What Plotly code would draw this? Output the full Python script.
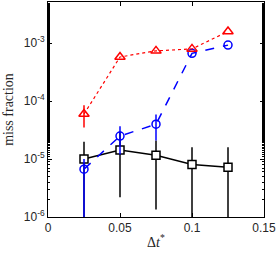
import plotly.graph_objects as go

x = [0.025, 0.05, 0.075, 0.1, 0.125]

red_y = [6.0e-5, 5.8e-4, 7.4e-4, 8.0e-4, 1.6e-3]
red_hi = [8.5e-5, 5.8e-4, 7.4e-4, 8.0e-4, 1.6e-3]
red_lo = [3.5e-5, 5.8e-4, 7.4e-4, 8.0e-4, 1.6e-3]

blue_y = [6.7e-6, 2.5e-5, 4.0e-5, 6.7e-4, 9.3e-4]
blue_hi = [1.0e-5, 3.7e-5, 5.9e-5, 6.7e-4, 9.3e-4]
blue_lo = [1e-7, 1.2e-5, 2.1e-5, 6.7e-4, 9.3e-4]

black_y = [1.0e-5, 1.43e-5, 1.17e-5, 8.1e-6, 7.2e-6]
black_hi = [2.0e-5, 3.0e-5, 2.1e-5, 1.6e-5, 1.6e-5]
black_lo = [1e-7, 2.2e-6, 1.35e-6, 1e-7, 1e-7]

yticks = [1e-6, 1e-5, 1e-4, 1e-3]
yticktext = ["10<sup>-6</sup>", "10<sup>-5</sup>", "10<sup>-4</sup>", "10<sup>-3</sup>"]
xticks = [0, 0.05, 0.1, 0.15]
xticktext = ["0", "0.05", "0.1", "0.15"]


def err(y, hi, lo):
    return dict(type="data", symmetric=False,
                array=[h - v for h, v in zip(hi, y)],
                arrayminus=[v - l for v, l in zip(y, lo)],
                width=0, thickness=1.5)


fig = go.Figure()
fig.add_trace(go.Scatter(
    x=x, y=black_y, mode="lines+markers",
    line=dict(color="black", width=1.5, dash="solid"),
    marker=dict(symbol="square", size=8, color="white", line=dict(color="black", width=1.5)),
    error_y=dict(err(black_y, black_hi, black_lo), color="black")))
fig.add_trace(go.Scatter(
    x=x, y=blue_y, mode="lines+markers",
    line=dict(color="blue", width=1.5, dash="dash"),
    marker=dict(symbol="circle-open", size=8, color="blue", line=dict(color="blue", width=1.5)),
    error_y=dict(err(blue_y, blue_hi, blue_lo), color="blue")))
fig.add_trace(go.Scatter(
    x=x, y=red_y, mode="lines+markers",
    line=dict(color="red", width=1.2, dash="dot"),
    marker=dict(symbol="triangle-up-open", size=9, color="red", line=dict(color="red", width=1.5)),
    error_y=dict(err(red_y, red_hi, red_lo), color="red")))

axis_common = dict(showline=True, linecolor="black", linewidth=1, mirror="ticks",
                   ticks="inside", tickcolor="black", ticklen=4, showgrid=False, zeroline=False,
                   automargin=False,
                   tickfont=dict(family="Liberation Sans, Arial", size=12, color="#262626"))

fig.update_xaxes(range=[0, 0.15], tickvals=xticks, ticktext=xticktext,
                 title=dict(text="Δ<i>t</i><sup>*</sup>", standoff=2,
                            font=dict(family="Liberation Serif, Times New Roman", size=14, color="#262626")),
                 **axis_common)
fig.update_yaxes(type="log", range=[-6, -2.287], tickvals=yticks, ticktext=yticktext,
                 minor=dict(ticks="inside", ticklen=2, tickcolor="black", showgrid=False),
                 title=dict(text="miss fraction", standoff=6,
                            font=dict(family="Liberation Serif, Times New Roman", size=14, color="#262626")),
                 **axis_common)

fig.update_layout(width=278, height=253, margin=dict(l=48, r=14, t=2, b=36, autoexpand=False),
                  paper_bgcolor="white", plot_bgcolor="white", showlegend=False)

fig.write_html("out.html", config={"displayModeBar": False},
               post_script="document.body.style.margin='0';document.body.style.overflow='hidden';")
